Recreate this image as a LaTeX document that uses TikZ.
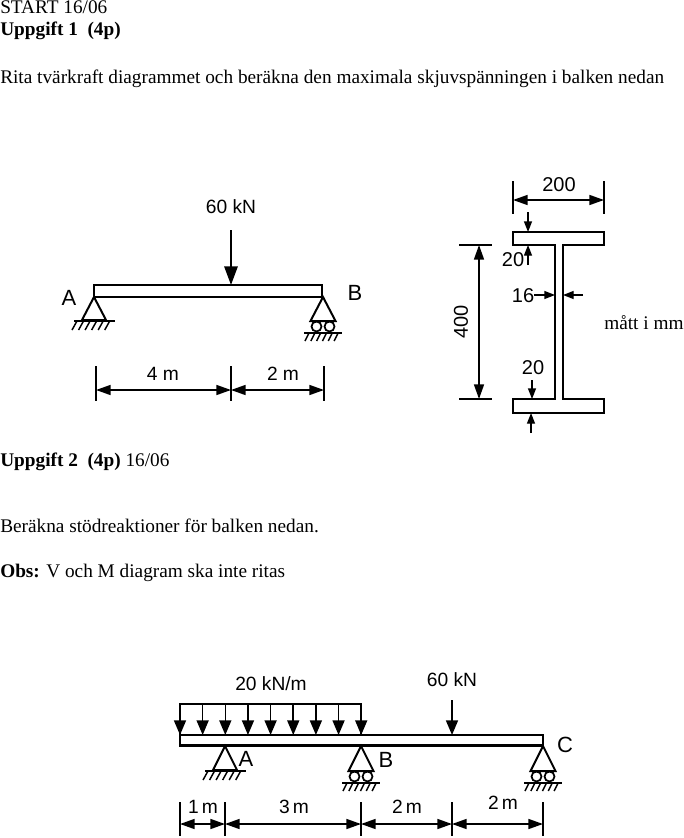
\documentclass[tikz,border=0pt]{standalone}
\usepackage{fontspec}
\setmainfont{Liberation Serif}
\newfontfamily\arialf{Liberation Sans}
\usetikzlibrary{arrows.meta}
\tikzset{
  x=0.75pt,y=-0.75pt,
  body/.style={draw=black,line width=1.6pt,fill=white},
  txt/.style={font=\fontsize{14.46}{16}\selectfont,anchor=base west,inner sep=0pt,text=black},
  lab/.style={font=\arialf\fontsize{14.4}{16}\selectfont,inner sep=0pt,text=black},
  letter/.style={font=\arialf\fontsize{16.5}{18}\selectfont,inner sep=0pt,text=black},
  big/.style={-{Triangle[length=14pt,width=10pt]},line width=1.5pt},
  med/.style={-{Triangle[length=11pt,width=9pt]},line width=1.2pt},
  small/.style={-{Triangle[length=8pt,width=6pt]},line width=1pt},
  dimm/.style={{Triangle[length=11pt,width=7.5pt]}-{Triangle[length=11pt,width=7.5pt]},line width=1.2pt},
  tick/.style={line width=0.9pt},
  hatch/.style={line width=1.1pt},
  pics/fixedsup/.style n args={3}{code={
    \draw[line width=1.5pt,fill=white] (0,0) -- (-#1,#2) -- (#1,#2) -- cycle;
    \draw[line width=1.4pt] (-#3+1,#2+1) -- (#3,#2+1);
    \foreach \h in {0,1,...,5}
      \draw[hatch] ({-#3+4+\h*(2*#3-6)/5.5},#2+1) -- ++(-5,9);
  }},
  pics/rollersup/.style n args={3}{code={
    \draw[line width=1.5pt,fill=white] (0,0) -- (-#1,#2) -- (#1,#2) -- cycle;
    \draw[line width=1.3pt] (-6.5,#2+5.5) circle[radius=5];
    \draw[line width=1.3pt] (6.5,#2+5.5) circle[radius=5];
    \draw[line width=1.4pt] (-#3,#2+12) -- (#3,#2+12);
    \foreach \h in {0,1,...,5}
      \draw[hatch] ({-#3+5+\h*(2*#3-6)/5.5},#2+12) -- ++(-4,8);
  }},
}
\begin{document}
\begin{tikzpicture}
\useasboundingbox (0,0) rectangle (683,838);
% texts
\node[txt] (t0) at (0,14) {START 16/06};
\node[txt] (t1) at (0,36) {\textbf{Uppgift 1\ \ (4p)}};
\node[txt] (t2) at (0,84) {Rita tvärkraft diagrammet och beräkna den maximala skjuvspänningen i balken nedan};
\node[txt] (t3) at (0,466) {\textbf{Uppgift 2\ \ (4p)} 16/06};
\node[txt] (t4) at (0,532) {Beräkna stödreaktioner för balken nedan.};
\node[txt] (t5) at (0,577) {\textbf{Obs:} V och M diagram ska inte ritas};
\node[txt] (t6) at (604,329) {mått i mm};

% --- beam 1
\coordinate (f1) at (231,230);
\node[lab] (l60a) at (231,207) {60 kN};
\draw[body] (94,285) rectangle (322,297);
\coordinate (f1tip) at (231,285);
\draw[big] (f1) -- (f1tip);
\pic at (94,297) {fixedsup={12}{23}{21}};
\pic at (323,297) {rollersup={12.5}{24}{19}};
\node[letter] (lA1) at (69,298) {A};
\node[letter] (lB1) at (355,293) {B};
\coordinate (a0) at (96,390); \coordinate (a1) at (231,390); \coordinate (a2) at (324,390);
\foreach \c in {a0,a1,a2} \draw[tick] (\c) ++(0,-24) -- ++(0,35);
\draw[dimm] (a0) -- (a1);
\draw[dimm] (a1) -- (a2);
\node[lab] (l4m) at (163,374) {4 m};
\node[lab] (l2m) at (283,374) {2 m};

% --- I section
\draw[body] (513,232) -- (604,232) -- (604,245) -- (563,245) -- (563,399) -- (604,399) -- (604,413) -- (513,413) -- (513,399) -- (555,399) -- (555,245) -- (513,245) -- cycle;
\coordinate (w0) at (513,200); \coordinate (w1) at (604,200);
\foreach \c in {w0,w1} \draw[tick] (\c) ++(0,-19) -- ++(0,33);
\draw[dimm] (w0) -- (w1);
\node[lab,font=\arialf\fontsize{15}{16}\selectfont] (l200) at (559,185) {200};
\coordinate (h0) at (479,245); \coordinate (h1) at (479,399);
\foreach \c in {h0,h1} \draw[tick] (\c) ++(-20,0) -- ++(33,0);
\draw[dimm] (h0) -- (h1);
\node[lab,rotate=90,font=\arialf\fontsize{15}{16}\selectfont] (l400) at (461,322) {400};
\draw[small] (528,212) -- (528,232);
\draw[small] (528,265) -- (528,245);
\node[lab,font=\arialf\fontsize{15}{16}\selectfont] (l20a) at (513,260) {20};
\node[lab,font=\arialf\fontsize{15}{16}\selectfont] (l16) at (523,296) {16};
\draw[small] (534,295) -- (555,295);
\draw[small] (583,295) -- (563,295);
\node[lab,font=\arialf\fontsize{15}{16}\selectfont] (l20b) at (533,368) {20};
\draw[small] (532,380) -- (532,399);
\draw[small] (531,433) -- (531,413);

% --- beam 2
\draw[body] (180,735) rectangle (543,745.5);
\draw[line width=1.3pt] (180,735) -- (180,704) -- (361,704) -- (361,735);
\foreach \i in {0,...,8} \draw[med] ({180+\i*22.65},704) -- ({180+\i*22.65},735);
\draw[med] (452,700) -- (452,735);
\node[lab] (l60b) at (452,680) {60 kN};
\node[lab] (l20q) at (271,684) {20 kN/m};
\pic at (225,746) {fixedsup={12}{24}{21}};
\pic at (361,746) {rollersup={12.5}{25}{19}};
\pic at (543,746) {rollersup={12.5}{25}{19}};
\node[letter] (lA2) at (246,759) {A};
\node[letter] (lB2) at (386,760) {B};
\node[letter] (lC2) at (565,745) {C};
\coordinate (b0) at (180,824); \coordinate (b1) at (225,824); \coordinate (b2) at (361,824);
\coordinate (b3) at (452,824); \coordinate (b4) at (543,824);
\foreach \c in {b0,b1,b2,b3,b4} \draw[tick] (\c) ++(0,-22) -- ++(0,34);
\draw[dimm] (b0) -- (b1);
\draw[dimm] (b1) -- (b2);
\draw[dimm] (b2) -- (b3);
\draw[dimm] (b3) -- (b4);
\node[lab] (d1) at (203,807) {1\,m};
\node[lab] (d2) at (294,807) {3\,m};
\node[lab] (d3) at (407,807) {2\,m};
\node[lab] (d4) at (503,803) {2\,m};
\end{tikzpicture}
\end{document}
